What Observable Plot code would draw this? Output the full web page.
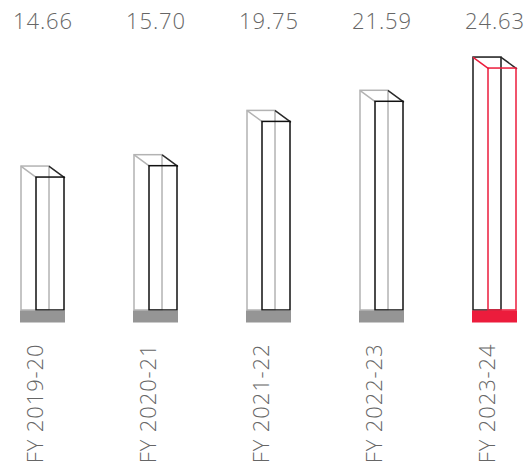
<!DOCTYPE html>
<html>
<head>
<meta charset="utf-8">
<script src="https://cdn.jsdelivr.net/npm/d3@7"></script>
<script src="https://cdn.jsdelivr.net/npm/@observablehq/plot@0.6"></script>
<style>
  html, body { margin: 0; padding: 0; background: #fff; }
  #chart svg { display: block; }
  #chart text { letter-spacing: 0.9px; }
</style>
</head>
<body>
<div id="chart"></div>
<script>
// Revenue by fiscal year, drawn as wireframe 3D columns.
const years = ["FY 2019-20", "FY 2020-21", "FY 2021-22", "FY 2022-23", "FY 2023-24"];
const revenue = [14.66, 15.70, 19.75, 21.59, 24.63];
const current = "FY 2023-24";
const yFloor = 2.5;   // where the columns stand
const yCeil = 25;

const data = years.map((fy, i) => ({fy, value: revenue[i], current: fy === current}));

const red = "#ec1c3c";
const depthX = 15, depthY = 11;                         // perspective offset of the back face
const edgeLen = Math.hypot(depthX, depthY);
const edgeAngle = 90 + Math.atan2(depthY, depthX) * 180 / Math.PI;
const line = {draw(ctx, l) { ctx.moveTo(0, 0); ctx.lineTo(0, -l); }};

const font = "'Open Sans', 'Lato', sans-serif";

const chart = Plot.plot({
  width: 525,
  height: 474,
  marginTop: 64,
  marginBottom: 164,
  marginLeft: 19,
  marginRight: 7,
  x: {domain: years, paddingInner: 0.6035, paddingOuter: 0, axis: null},
  y: {domain: [yFloor, yCeil], axis: null},
  style: {background: "#fff", fontFamily: font},
  marks: [
    // back face
    Plot.rect(data, {
      x: "fy", y1: () => yFloor, y2: "value",
      insetLeft: 1, insetRight: 16, insetTop: -depthY,
      fill: "none", stroke: d => d.current ? "#1a1a1a" : "#b3b3b3", strokeWidth: 1.5
    }),
    // receding top edges
    Plot.vector(data, {
      x: "fy", y: "value", dx: -21.5, dy: -depthY,
      length: edgeLen, rotate: edgeAngle, anchor: "start", shape: line,
      stroke: d => d.current ? red : "#b3b3b3", strokeWidth: 1.5
    }),
    Plot.vector(data, {
      x: "fy", y: "value", dx: 6.5, dy: -depthY,
      length: edgeLen, rotate: edgeAngle, anchor: "start", shape: line,
      stroke: "#2a2a2a", strokeWidth: 1.5
    }),
    // front face
    Plot.rect(data, {
      x: "fy", y1: () => yFloor, y2: "value",
      insetLeft: 16, insetRight: 1,
      fill: "none", stroke: d => d.current ? red : "#111", strokeWidth: 1.5
    }),
    // plinth
    Plot.tickY(data, {
      x: "fy", y: () => yFloor, dy: 6,
      stroke: d => d.current ? red : "#959595", strokeWidth: 12
    }),
    // values
    Plot.text(data, {
      x: "fy", text: d => d.value.toFixed(2), frameAnchor: "top", dy: -36,
      lineAnchor: "bottom", fontSize: 22, fontWeight: 300, fill: "#666"
    }),
    // fiscal years
    Plot.text(data, {
      x: "fy", text: "fy", frameAnchor: "bottom", dy: 33, rotate: -90,
      textAnchor: "end", fontSize: 22, fontWeight: 300, fill: "#666"
    })
  ]
});

document.getElementById("chart").append(chart);
</script>
</body>
</html>
